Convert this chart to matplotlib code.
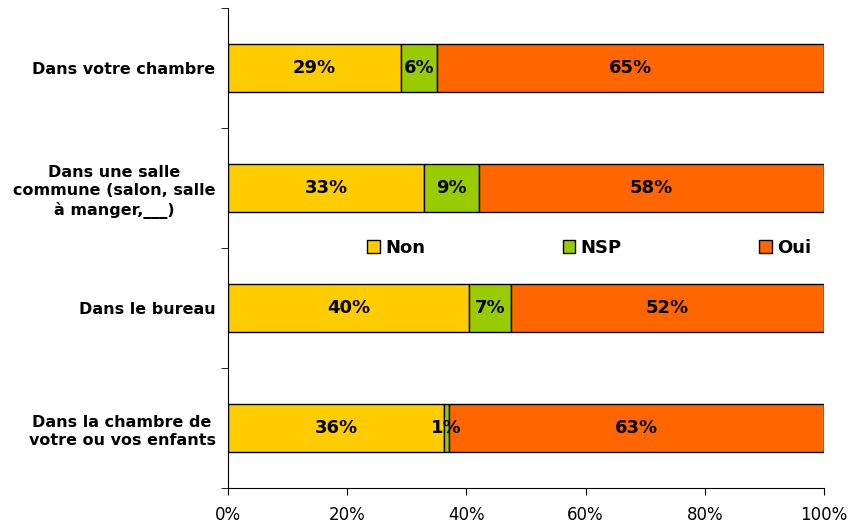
import numpy as np
import matplotlib.pyplot as plt

# Donnees
categories = ['Dans votre chambre',
              'Dans une salle\ncommune (salon, salle\nà manger,___)',
              'Dans le bureau',
              'Dans la chambre de\nvotre ou vos enfants']
non = [29.0, 32.9, 40.4, 36.2]
nsp = [6.1, 9.2, 7.1, 0.9]
oui = [64.9, 57.9, 52.5, 62.9]
series = ['Non', 'NSP', 'Oui']
couleurs = ['#FFCC00', '#99CC00', '#FF6600']
xticks = [0, 20, 40, 60, 80, 100]

fig = plt.figure(figsize=(8.49, 5.23), dpi=100)
ax = fig.add_axes([0.2686, 0.0669, 0.702, 0.9178])

y = np.arange(len(categories))
gauche = np.zeros(len(categories))
for nom, vals, c in zip(series, [non, nsp, oui], couleurs):
    vals = np.array(vals)
    ax.barh(y, vals, left=gauche, height=0.4, color=c, edgecolor='black',
            linewidth=1, label=nom)
    for yi, g, v in zip(y, gauche, vals):
        ax.text(g + v / 2, yi, '%d%%' % round(v), ha='center', va='center',
                fontsize=13, fontweight='bold')
    gauche = gauche + vals

ax.set_xlim(0, 100)
ax.set_ylim(3.5, -0.5)
ax.set_xticks(xticks)
ax.set_xticklabels(['%d%%' % t for t in xticks], fontsize=12)
ax.tick_params(axis='x', length=5, pad=8)
ax.set_yticks(y)
ax.set_yticklabels(categories, fontsize=11.5, fontweight='bold', ha='right',
                   multialignment='center', linespacing=1.3)
ax.tick_params(axis='y', which='major', length=0, pad=9)
ax.set_yticks(np.arange(-0.5, 4, 1), minor=True)
ax.tick_params(axis='y', which='minor', length=5)
ax.spines['top'].set_visible(False)
ax.spines['right'].set_visible(False)

leg = ax.legend(loc='center', bbox_to_anchor=(0.606, 0.5), ncol=3, frameon=False,
                prop={'weight': 'bold', 'size': 13}, handlelength=0.7,
                handleheight=0.7, handletextpad=0.3, columnspacing=7.6)

plt.savefig('out.png')
